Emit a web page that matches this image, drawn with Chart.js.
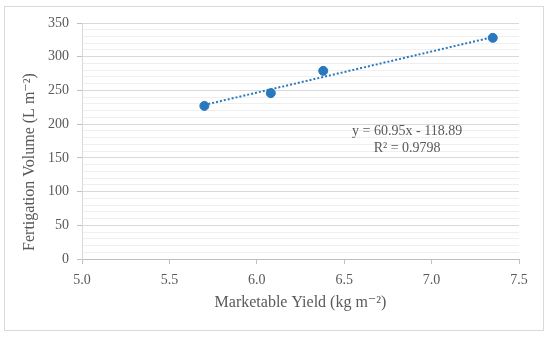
<!DOCTYPE html>
<html>
<head>
<meta charset="utf-8">
<script src="https://cdn.jsdelivr.net/npm/chart.js@4/dist/chart.umd.min.js"></script>
<style>
  html, body { margin: 0; padding: 0; background: #ffffff; }
  #wrap { width: 550px; height: 337px; }
</style>
</head>
<body>
<div id="wrap"><canvas id="c" width="550" height="337"></canvas></div>
<script>
// Data
const yieldX = [5.70, 6.08, 6.38, 7.35];          // Marketable Yield (kg m-2)
const volumeY = [227, 246, 279, 328];             // Fertigation Volume (L m-2)
const trendX = [5.70, 7.35];                      // trendline end points
const trendY = [228.5, 329.1];
const equationLines = ['y = 60.95x - 118.89', 'R\u00b2 = 0.9798'];
const equationAnchor = [6.86, 190];               // data position of the label
const xTitle = 'Marketable Yield (kg m\u207b\u00b2)';
const yTitle = 'Fertigation Volume (L m\u207b\u00b2)';

const FONT = "'Liberation Serif', 'DejaVu Serif', serif";
const TXT = '#595959';
const BLUE = '#2878bd';

const pointsData = yieldX.map((x, i) => ({ x: x, y: volumeY[i] }));
const trendData = trendX.map((x, i) => ({ x: x, y: trendY[i] }));

const decor = {
  id: 'decor',
  beforeDraw(chart) {
    const ctx = chart.ctx;
    ctx.save();
    ctx.fillStyle = '#ffffff';
    ctx.fillRect(0, 0, chart.width, chart.height);
    ctx.strokeStyle = '#d9d9d9';
    ctx.lineWidth = 1;
    ctx.strokeRect(4.5, 6.5, 539, 324);
    ctx.restore();
  },
  afterDraw(chart) {
    const ctx = chart.ctx;
    const xs = chart.scales.x, ys = chart.scales.y;
    ctx.save();
    // equation label
    ctx.font = '14px ' + FONT;
    ctx.fillStyle = TXT;
    ctx.textAlign = 'center';
    ctx.textBaseline = 'middle';
    const px = xs.getPixelForValue(equationAnchor[0]);
    const py = ys.getPixelForValue(equationAnchor[1]);
    equationLines.forEach((t, i) => ctx.fillText(t, px, py + i * 17));
    // y axis title
    ctx.font = '16px ' + FONT;
    ctx.translate(30, 162);
    ctx.rotate(-Math.PI / 2);
    ctx.fillText(yTitle, 0, 0);
    ctx.restore();
  }
};

new Chart(document.getElementById('c'), {
  type: 'scatter',
  data: {
    datasets: [
      {
        label: 'Data',
        data: pointsData,
        backgroundColor: BLUE,
        borderColor: BLUE,
        pointRadius: 4.5,
        pointHoverRadius: 4.5,
        showLine: false
      },
      {
        label: 'Trend',
        data: trendData,
        showLine: true,
        borderColor: BLUE,
        borderWidth: 2,
        borderDash: [2, 2],
        pointRadius: 0,
        fill: false
      }
    ]
  },
  options: {
    responsive: false,
    animation: false,
    devicePixelRatio: 1,
    layout: { padding: { left: 0, right: 31, top: 23, bottom: 25 } },
    plugins: { legend: { display: false }, tooltip: { enabled: false } },
    scales: {
      x: {
        type: 'linear',
        min: 5, max: 7.5,
        afterFit(s) { s.height = 53; },
        border: { display: true, color: '#bfbfbf', width: 1 },
        grid: { drawOnChartArea: false, drawTicks: true, tickLength: 5, color: '#bfbfbf' },
        ticks: {
          stepSize: 0.5, padding: 8, color: TXT,
          font: { family: FONT, size: 14 },
          callback: v => Number(v).toFixed(1)
        },
        title: {
          display: true, text: xTitle, color: TXT,
          font: { family: FONT, size: 16 }, padding: { top: 0, bottom: 0 }
        }
      },
      y: {
        type: 'linear',
        min: 0, max: 350,
        afterFit(s) { s.width = 82; },
        border: { display: true, color: '#d9d9d9', width: 1 },
        grid: {
          drawTicks: true, tickLength: 5,
          color: c => (c.tick && c.tick.value % 50 === 0) ? '#d9d9d9' : '#efefef',
          tickColor: c => (c.tick && c.tick.value % 50 === 0) ? '#bfbfbf' : 'rgba(0,0,0,0)'
        },
        ticks: {
          stepSize: 10, padding: 8, color: TXT, autoSkip: false,
          font: { family: FONT, size: 14 },
          callback: v => (v % 50 === 0 ? String(v) : '')
        },
        title: { display: false }
      }
    }
  },
  plugins: [decor]
});
</script>
</body>
</html>
